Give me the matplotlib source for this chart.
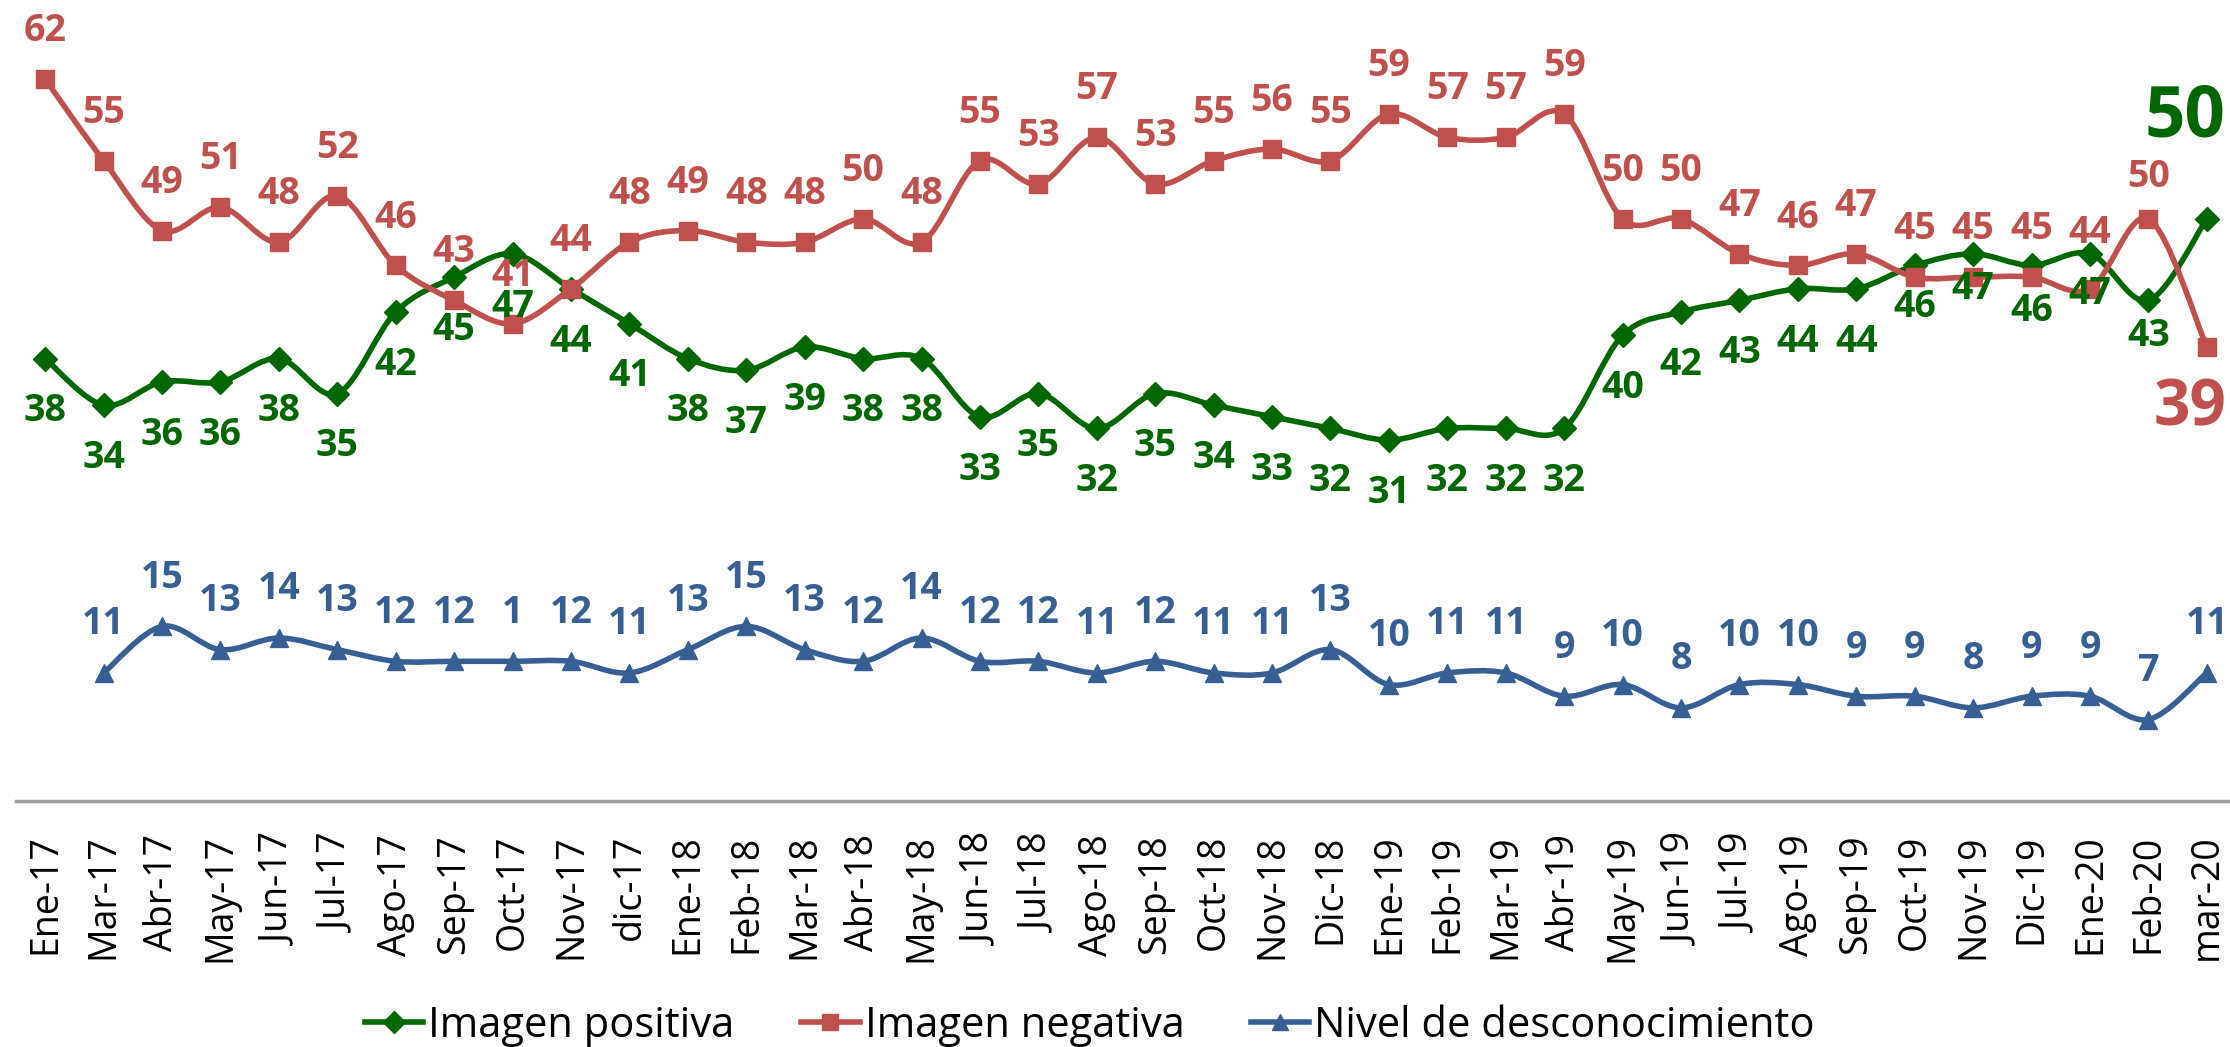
import matplotlib
matplotlib.use("Agg")
import matplotlib.pyplot as plt
from matplotlib.path import Path
from matplotlib.patches import PathPatch
from matplotlib.lines import Line2D
import numpy as np

meses = ["Ene-17", "Mar-17", "Abr-17", "May-17", "Jun-17", "Jul-17", "Ago-17", "Sep-17",
         "Oct-17", "Nov-17", "dic-17", "Ene-18", "Feb-18", "Mar-18", "Abr-18", "May-18",
         "Jun-18", "Jul-18", "Ago-18", "Sep-18", "Oct-18", "Nov-18", "Dic-18", "Ene-19",
         "Feb-19", "Mar-19", "Abr-19", "May-19", "Jun-19", "Jul-19", "Ago-19", "Sep-19",
         "Oct-19", "Nov-19", "Dic-19", "Ene-20", "Feb-20", "mar-20"]

positiva = [38, 34, 36, 36, 38, 35, 42, 45, 47, 44, 41, 38, 37, 39, 38, 38, 33, 35, 32,
            35, 34, 33, 32, 31, 32, 32, 32, 40, 42, 43, 44, 44, 46, 47, 46, 47, 43, 50]
negativa = [62, 55, 49, 51, 48, 52, 46, 43, 41, 44, 48, 49, 48, 48, 50, 48, 55, 53, 57,
            53, 55, 56, 55, 59, 57, 57, 59, 50, 50, 47, 46, 47, 45, 45, 45, 44, 50, 39]
# sin dato en Ene-17
desconoc = [None, 11, 15, 13, 14, 13, 12, 12, 12, 12, 11, 13, 15, 13, 12, 14, 12, 12, 11,
            12, 11, 11, 13, 10, 11, 11, 9, 10, 8, 10, 10, 9, 9, 8, 9, 9, 7, 11]
etiq_desc = ["" if v is None else str(v) for v in desconoc]
etiq_desc[8] = "1"  # asi aparece en el original

VERDE = "#006600"
ROJO = "#C0504D"
AZUL = "#375F93"

plt.rcParams["font.family"] = ["Open Sans", "DejaVu Sans"]

fig = plt.figure(figsize=(22.3, 10.47), dpi=100)
ax = fig.add_axes([16 / 2230, 1 - 801 / 1047, 2220 / 2230, 801 / 1047])
ax.set_xlim(-0.5, len(meses) - 0.5)
ax.set_ylim(0, 68.8)


def curva(xs, ys):
    # suavizado tipo Excel: bezier cubica por tramo
    p = np.column_stack([xs, ys]).astype(float)
    n = len(p)
    verts = [p[0]]
    codes = [Path.MOVETO]
    for i in range(n - 1):
        p0 = p[i - 1] if i > 0 else p[i]
        p3 = p[i + 2] if i + 2 < n else p[i + 1]
        verts += [p[i] + (p[i + 1] - p0) / 6, p[i + 1] - (p3 - p[i]) / 6, p[i + 1]]
        codes += [Path.CURVE4] * 3
    return Path(verts, codes)


series = [
    (positiva, VERDE, "D", 12, "Imagen positiva"),
    (negativa, ROJO, "s", 13.5, "Imagen negativa"),
    (desconoc, AZUL, "^", 13, "Nivel de desconocimiento"),
]
handles = []
for vals, col, mk, ms, nombre in series:
    xs = [i for i, v in enumerate(vals) if v is not None]
    ys = [v for v in vals if v is not None]
    ax.add_patch(PathPatch(curva(xs, ys), fill=False, edgecolor=col, lw=4,
                           capstyle="round", joinstyle="round"))
    ax.plot(xs, ys, ls="none", marker=mk, ms=ms, color=col)
    handles.append(Line2D([], [], color=col, lw=4, marker=mk, ms=ms * 0.9, label=nombre))

lab = dict(fontsize=27, fontweight="bold", ha="center", va="center",
           textcoords="offset points", annotation_clip=False)

# etiquetas movidas a mano en el original
off_pos = {32: -30, 33: -25, 34: -33, 35: -29, 36: -26}
off_neg = {35: 40, 36: 30}

n = len(meses)
for i in range(n - 1):
    ax.annotate(str(positiva[i]), (i, positiva[i]), xytext=(0, off_pos.get(i, -38)),
                color=VERDE, **lab)
    ax.annotate(str(negativa[i]), (i, negativa[i]), xytext=(0, off_neg.get(i, 34.5)),
                color=ROJO, **lab)
for i in range(n):
    if etiq_desc[i]:
        ax.annotate(etiq_desc[i], (i, desconoc[i]), xytext=(0, 35), color=AZUL, **lab)

# ultimo dato destacado
big = dict(lab)
big["fontsize"] = 51
ax.annotate(str(positiva[-1]), (n - 1, positiva[-1]), xytext=(-16, 73), color=VERDE, **big)
big["fontsize"] = 46
ax.annotate(str(negativa[-1]), (n - 1, negativa[-1]), xytext=(-12, -45), color=ROJO, **big)

ax.set_xticks(range(n))
ax.set_xticklabels(meses, rotation=90, fontsize=27, va="top")
ax.tick_params(axis="x", length=0, pad=24)
ax.set_yticks([])
for s in ["top", "right", "left"]:
    ax.spines[s].set_visible(False)
ax.spines["bottom"].set_color("#A0A0A0")
ax.spines["bottom"].set_linewidth(2.5)

fig.legend(handles=handles, loc="center", bbox_to_anchor=(1090 / 2230, 1 - 1026 / 1047),
           ncol=3, frameon=False, fontsize=30, handlelength=1.4, handletextpad=0.12,
           columnspacing=1.6, borderaxespad=0)

fig.savefig("out.png", dpi=100)
